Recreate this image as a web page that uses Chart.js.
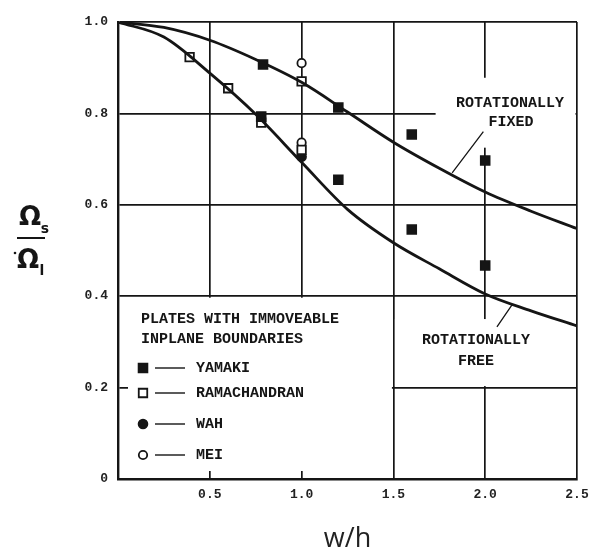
<!DOCTYPE html>
<html>
<head>
<meta charset="utf-8">
<script src="https://cdn.jsdelivr.net/npm/chart.js@4.4.0/dist/chart.umd.min.js"></script>
<style>
  body{margin:0;background:#fff;}
  #wrap{width:597px;height:560px;}
</style>
</head>
<body>
<div id="wrap"><canvas id="chart"></canvas></div>
<script>
/* ===============================
   DATA
================================ */
const curveX  = [0, 0.25, 0.5, 0.75, 1.0, 1.25, 1.5, 1.75, 2.0, 2.25, 2.5];
const fixedY  = [1.0, 0.988, 0.960, 0.918, 0.868, 0.803, 0.737, 0.680, 0.628, 0.586, 0.548];
const freeY   = [1.0, 0.967, 0.888, 0.798, 0.693, 0.590, 0.517, 0.460, 0.405, 0.368, 0.335];

const yamakiX = [0.79, 0.78, 1.2, 1.2, 1.6, 1.6, 2.0, 2.0];
const yamakiY = [0.907, 0.793, 0.813, 0.655, 0.754, 0.546, 0.697, 0.467];
const ramaX   = [0.39, 0.60, 0.78, 1.0, 1.0];
const ramaY   = [0.923, 0.855, 0.780, 0.870, 0.720];
const wahX    = [1.0];
const wahY    = [0.705];
const meiX    = [1.0, 1.0];
const meiY    = [0.910, 0.736];

const xTicks = [0.5, 1.0, 1.5, 2.0, 2.5];
const yTicks = [0, 0.2, 0.4, 0.6, 0.8, 1.0];

const legendTitle = ["PLATES WITH IMMOVEABLE", "INPLANE BOUNDARIES"];
const legendNames = ["YAMAKI", "RAMACHANDRAN", "WAH", "MEI"];

const ink = "#151515";
const mono = '"Liberation Mono", "DejaVu Sans Mono", monospace';

const pts = (xs, ys) => xs.map((x, i) => ({x: x, y: ys[i]}));

// marker look, shared by the plot and the legend
const markers = [
  {pointStyle: "rect",   radius: 6.2, fill: ink,    border: ink},
  {pointStyle: "rect",   radius: 6.0, fill: "#fff", border: ink},
  {pointStyle: "circle", radius: 4.4, fill: ink,    border: ink},
  {pointStyle: "circle", radius: 4.2, fill: "#fff", border: ink}
];

function markerSet(label, data, m){
  return {
    label: label, data: data, showLine: false,
    pointStyle: m.pointStyle, pointRadius: m.radius, pointHoverRadius: m.radius,
    backgroundColor: m.fill, borderColor: m.border, pointBorderWidth: 1.8
  };
}

function curveSet(label, ys){
  return {
    label: label, data: pts(curveX, ys), showLine: true,
    borderColor: ink, borderWidth: 2.8, pointRadius: 0,
    cubicInterpolationMode: "monotone", fill: false
  };
}

/* ===============================
   PAPER PLUGIN: blank boxes, labels, legend
================================ */
const paper = {
  id: "paper",
  beforeDatasetsDraw(chart){
    const {ctx, scales:{x, y}} = chart;
    ctx.save();
    ctx.fillStyle = "#fff";
    // legend box (keep tick stubs on the left and bottom)
    ctx.fillRect(x.getPixelForValue(0) + 10, y.getPixelForValue(0.4) + 1.5,
      x.getPixelForValue(1.5) - 1.5 - x.getPixelForValue(0) - 10,
      y.getPixelForValue(0) - 8 - y.getPixelForValue(0.4) - 1.5);
    // "rotationally fixed" label area
    ctx.fillRect(x.getPixelForValue(1.73), y.getPixelForValue(0.878),
      x.getPixelForValue(2.5) - 1.5 - x.getPixelForValue(1.73),
      y.getPixelForValue(0.725) - y.getPixelForValue(0.878));
    // "rotationally free" label area
    ctx.fillRect(x.getPixelForValue(1.5) + 1.5, y.getPixelForValue(0.35),
      x.getPixelForValue(2.5) - 3 - x.getPixelForValue(1.5),
      y.getPixelForValue(0.2) - 1.5 - y.getPixelForValue(0.35));
    ctx.restore();
  },
  afterDatasetsDraw(chart){
    const {ctx, chartArea:a, scales:{x, y}} = chart;
    ctx.save();
    ctx.fillStyle = ink;
    ctx.strokeStyle = ink;
    ctx.font = "bold 15px " + mono;
    ctx.textBaseline = "middle";

    // curve labels
    ctx.textAlign = "center";
    ctx.fillText("ROTATIONALLY", x.getPixelForValue(2.135), y.getPixelForValue(0.823));
    ctx.fillText("FIXED", x.getPixelForValue(2.14), y.getPixelForValue(0.781));
    ctx.fillText("ROTATIONALLY", x.getPixelForValue(1.95), y.getPixelForValue(0.303));
    ctx.fillText("FREE", x.getPixelForValue(1.95), y.getPixelForValue(0.257));

    ctx.lineWidth = 1.3;
    ctx.beginPath();
    ctx.moveTo(x.getPixelForValue(1.99), y.getPixelForValue(0.760));
    ctx.lineTo(x.getPixelForValue(1.82), y.getPixelForValue(0.670));
    ctx.moveTo(x.getPixelForValue(2.146), y.getPixelForValue(0.381));
    ctx.lineTo(x.getPixelForValue(2.064), y.getPixelForValue(0.333));
    ctx.stroke();

    // legend
    ctx.textAlign = "left";
    legendTitle.forEach((t, i) => ctx.fillText(t, a.left + 23, a.bottom - 160 + i * 20));
    const rowY = [-111, -86, -55, -24];
    legendNames.forEach((name, i) => {
      const m = markers[i];
      const cy = a.bottom + rowY[i];
      ctx.fillStyle = m.fill;
      ctx.strokeStyle = m.border;
      ctx.lineWidth = 1.8;
      Chart.helpers.drawPoint(ctx, {pointStyle: m.pointStyle, radius: m.radius, rotation: 0, borderWidth: 1.8}, a.left + 25, cy);
      ctx.fillStyle = ink;
      ctx.strokeStyle = ink;
      ctx.lineWidth = 1.4;
      ctx.beginPath();
      ctx.moveTo(a.left + 37, cy);
      ctx.lineTo(a.left + 67, cy);
      ctx.stroke();
      ctx.fillText(name, a.left + 78, cy);
    });

    // y axis title: Omega_s over Omega_l
    ctx.textAlign = "center";
    ctx.font = 'bold 26px "DejaVu Sans", sans-serif';
    ctx.fillText("\u03A9", 30, 218);
    ctx.fillText("\u03A9", 28, 261);
    ctx.font = 'bold 14px "DejaVu Sans", sans-serif';
    ctx.fillText("s", 45, 229);
    ctx.fillText("l", 42, 271);
    ctx.lineWidth = 2;
    ctx.beginPath();
    ctx.moveTo(17, 238);
    ctx.lineTo(45, 238);
    ctx.stroke();
    ctx.beginPath();
    ctx.arc(15, 253, 1.3, 0, Math.PI * 2);
    ctx.fill();
    ctx.restore();
  }
};

/* ===============================
   CHART
================================ */
new Chart(document.getElementById("chart"), {
  type: "scatter",
  data: {
    datasets: [
      curveSet("Rotationally fixed", fixedY),
      curveSet("Rotationally free", freeY),
      markerSet("Yamaki", pts(yamakiX, yamakiY), markers[0]),
      markerSet("Ramachandran", pts(ramaX, ramaY), markers[1]),
      markerSet("Wah", pts(wahX, wahY), markers[2]),
      markerSet("Mei", pts(meiX, meiY), markers[3])
    ]
  },
  options: {
    responsive: true,
    maintainAspectRatio: false,
    animation: false,
    layout: {padding: {top: 22, right: 20, left: 0, bottom: 0}},
    plugins: {legend: {display: false}, tooltip: {enabled: false}},
    scales: {
      x: {
        type: "linear", min: 0, max: 2.5,
        afterFit: s => { s.height = 81; },
        afterBuildTicks: s => { s.ticks = [0].concat(xTicks).map(v => ({value: v})); },
        ticks: {
          padding: 8, color: "#222",
          font: {family: mono, size: 13, weight: "bold"},
          callback: v => xTicks.includes(v) ? v.toFixed(1) : ""
        },
        grid: {color: ink, lineWidth: 1.7, drawTicks: false},
        border: {color: ink, width: 2.4},
        title: {
          display: true, text: "w/h", color: "#222",
          font: {family: '"Open Sans", sans-serif', size: 27},
          padding: {top: 0, bottom: 4}
        }
      },
      y: {
        type: "linear", min: 0, max: 1.0,
        afterFit: s => { s.width = 118; },
        afterBuildTicks: s => { s.ticks = yTicks.map(v => ({value: v})); },
        ticks: {
          padding: 10, color: "#222",
          font: {family: mono, size: 13, weight: "bold"},
          callback: v => v === 0 ? "0" : v.toFixed(1)
        },
        grid: {color: ink, lineWidth: 1.7, drawTicks: false},
        border: {color: ink, width: 2.4}
      }
    }
  },
  plugins: [paper]
});
</script>
</body>
</html>
